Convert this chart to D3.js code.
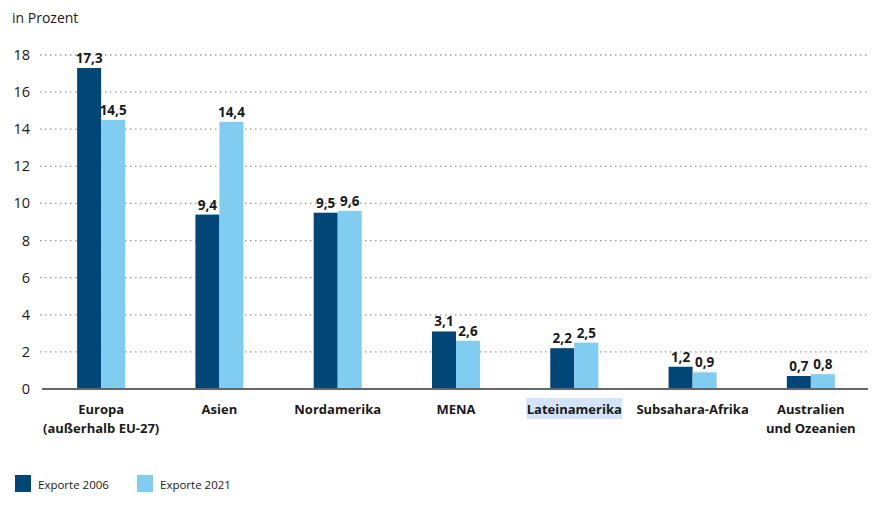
<!DOCTYPE html>
<html>
<head>
<meta charset="utf-8">
<script src="https://cdn.jsdelivr.net/npm/d3@7"></script>
<style>
  body { margin: 0; background: #fff; }
  text { font-family: "Open Sans", "Noto Sans", sans-serif; fill: #1a1a1a; }
  .grid line { stroke: #9a9a9a; stroke-dasharray: 1.5 3.5; stroke-width: 1.3; }
</style>
</head>
<body>
<div id="vis"></div>
<script>
// data
const regions = [
  ['Europa', '(außerhalb EU-27)'],
  ['Asien'],
  ['Nordamerika'],
  ['MENA'],
  ['Lateinamerika'],
  ['Subsahara-Afrika'],
  ['Australien', 'und Ozeanien']
]
const series = ['Exporte 2006', 'Exporte 2021']
const exports2006 = [17.3, 9.4, 9.5, 3.1, 2.2, 1.2, 0.7]
const exports2021 = [14.5, 14.4, 9.6, 2.6, 2.5, 0.9, 0.8]
const yTicks = [0, 2, 4, 6, 8, 10, 12, 14, 16, 18]
const colors = ['#004677', '#80cdf1']

const width = 887, height = 511
const plot = {left: 42, right: 870, top: 55, bottom: 389}

const svg = d3.select('#vis')
  .append('svg')
  .attr('width', width)
  .attr('height', height)

const keys = regions.map((d, i) => i)

const xScale = d3.scaleBand()
  .domain(keys)
  .range([plot.left, plot.right])
  .paddingInner(0.594)
  .paddingOuter(0.297)

const xSub = d3.scaleBand()
  .domain(series)
  .range([0, xScale.bandwidth()])

const yScale = d3.scaleLinear()
  .domain([0, 18])
  .range([plot.bottom, plot.top])

// dotted gridlines
svg.append('g')
  .attr('class', 'grid')
  .selectAll('line')
  .data(yTicks.filter(t => t > 0))
  .join('line')
  .attr('x1', plot.left - 2)
  .attr('x2', plot.right - 2)
  .attr('y1', d => yScale(d))
  .attr('y2', d => yScale(d))

// y tick labels
svg.append('g')
  .selectAll('text')
  .data(yTicks)
  .join('text')
  .attr('x', 30)
  .attr('y', d => yScale(d) + 5)
  .attr('text-anchor', 'end')
  .attr('font-size', 14.5)
  .text(d => d)

svg.append('text')
  .attr('x', 12)
  .attr('y', 23)
  .attr('font-size', 14)
  .text('in Prozent')

// bars
const rows = keys.map(i => [exports2006[i], exports2021[i]])

const groups = svg.append('g')
  .selectAll('g')
  .data(rows)
  .join('g')
  .attr('transform', (d, i) => `translate(${xScale(i)},0)`)

groups.selectAll('rect')
  .data(d => d.map((v, j) => ({v, s: series[j], j})))
  .join('rect')
  .attr('x', d => xSub(d.s))
  .attr('y', d => yScale(d.v))
  .attr('width', xSub.bandwidth())
  .attr('height', d => yScale(0) - yScale(d.v))
  .attr('fill', d => colors[d.j])

groups.selectAll('text.val')
  .data(d => d.map((v, j) => ({v, s: series[j], j})))
  .join('text')
  .attr('class', 'val')
  .attr('x', d => xSub(d.s) + xSub.bandwidth() / 2)
  .attr('y', d => yScale(d.v) - 5)
  .attr('text-anchor', 'middle')
  .attr('font-size', 13.5)
  .attr('font-weight', 'bold')
  .text(d => d3.format('.1f')(d.v).replace('.', ','))

// baseline
svg.append('line')
  .attr('x1', plot.left)
  .attr('x2', plot.right - 2)
  .attr('y1', yScale(0))
  .attr('y2', yScale(0))
  .attr('stroke', '#666')
  .attr('stroke-width', 2)

// highlight behind Lateinamerika (as in the source picture)
const latX = xScale(4) + xScale.bandwidth() / 2
svg.append('rect')
  .attr('x', latX - 48)
  .attr('y', 398)
  .attr('width', 96)
  .attr('height', 21)
  .attr('fill', '#d3e3f8')

// category labels
const catLabels = svg.append('g')
  .selectAll('text')
  .data(regions)
  .join('text')
  .attr('x', (d, i) => xScale(i) + xScale.bandwidth() / 2)
  .attr('y', 414)
  .attr('text-anchor', 'middle')
  .attr('font-size', 13)
  .attr('font-weight', 'bold')

catLabels.selectAll('tspan')
  .data(d => d)
  .join('tspan')
  .attr('x', function() { return this.parentNode.getAttribute('x') })
  .attr('dy', (d, i) => i === 0 ? 0 : 19)
  .text(d => d)

// legend
const legend = svg.append('g')
  .selectAll('g')
  .data(series)
  .join('g')
  .attr('transform', (d, i) => `translate(${15 + i * 122},475)`)

legend.append('rect')
  .attr('width', 16)
  .attr('height', 17)
  .attr('fill', (d, i) => colors[i])

legend.append('text')
  .attr('x', 23)
  .attr('y', 14)
  .attr('font-size', 11.5)
  .text(d => d)
</script>
</body>
</html>
